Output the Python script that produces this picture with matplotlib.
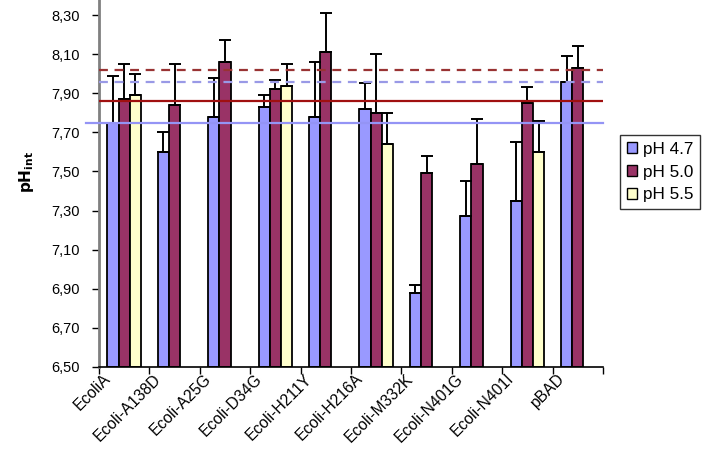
import numpy as np
import matplotlib
matplotlib.use("Agg")
import matplotlib.pyplot as plt
from matplotlib.patches import Patch

plt.rcParams['font.family'] = ['Liberation Sans', 'DejaVu Sans']

categories = ['EcoliA', 'Ecoli-A138D', 'Ecoli-A25G', 'Ecoli-D34G', 'Ecoli-H211Y',
              'Ecoli-H216A', 'Ecoli-M332K', 'Ecoli-N401G', 'Ecoli-N401I', 'pBAD']
nan = np.nan
ph47 = [7.75, 7.60, 7.78, 7.83, 7.78, 7.82, 6.88, 7.27, 7.35, 7.96]
ph47_err = [0.24, 0.10, 0.20, 0.06, 0.28, 0.13, 0.04, 0.18, 0.30, 0.13]
ph50 = [7.87, 7.84, 8.06, 7.92, 8.11, 7.80, 7.49, 7.54, 7.85, 8.03]
ph50_err = [0.18, 0.21, 0.11, 0.05, 0.20, 0.30, 0.09, 0.23, 0.08, 0.11]
ph55 = [7.89, nan, nan, 7.935, nan, 7.64, nan, nan, 7.60, nan]
ph55_err = [0.11, nan, nan, 0.115, nan, 0.16, nan, nan, 0.16, nan]
series_names = ['pH 4.7', 'pH 5.0', 'pH 5.5']
ref_levels = [7.75, 7.86, 7.96, 8.02]
yticks = [6.5, 6.7, 6.9, 7.1, 7.3, 7.5, 7.7, 7.9, 8.1, 8.3]

colors = ['#9999FF', '#993366', '#FFFFCC']
ref_styles = [('#9494F5', '-'), ('#A01010', '-'), ('#9999E6', (0, (4, 3))), ('#993333', (0, (4, 3)))]

fig = plt.figure(figsize=(7.08, 4.54), dpi=100)
ax = fig.add_axes([99 / 708, 1 - 367 / 454, (603 - 99) / 708, 367 / 454])

x = np.arange(len(categories))
w = 1 / 4.5
series = [(ph47, ph47_err), (ph50, ph50_err), (ph55, ph55_err)]
for k, (vals, errs) in enumerate(series):
    vals = np.array(vals)
    errs = np.array(errs)
    ok = ~np.isnan(vals)
    xs = x[ok] + (k - 1) * w
    ax.bar(xs, vals[ok] - 6.5, bottom=6.5, width=w, color=colors[k],
           edgecolor='black', linewidth=1.3, zorder=2)
    ax.errorbar(xs, vals[ok], yerr=[np.zeros(ok.sum()), errs[ok]], fmt='none',
                ecolor='black', elinewidth=1.4, capsize=4.3, capthick=1.4, zorder=3)

for lvl, (c, ls) in zip(ref_levels, ref_styles):
    if lvl == ref_levels[0]:
        ax.axhline(lvl, xmin=-0.026, xmax=1, color=c, linestyle=ls, linewidth=1.6,
                   zorder=4, clip_on=False)
    else:
        ax.axhline(lvl, color=c, linestyle=ls, linewidth=1.6, zorder=4)

ax.set_xlim(-0.5, len(categories) - 0.5)
ax.set_ylim(6.5, 8.377)
ax.set_yticks(yticks)
ax.set_yticklabels([f"{v:.2f}".replace('.', ',') for v in yticks], fontsize=10.5)

ax.set_xticks(np.arange(-0.5, len(categories)), labels=[''] * (len(categories) + 1))
ax.set_xticks(x - 0.42, minor=True)
ax.set_xticklabels(categories, minor=True, rotation=45, ha='right',
                   rotation_mode='anchor', fontsize=11.3)
ax.tick_params(axis='x', which='minor', length=0, pad=3)
ax.tick_params(axis='x', which='major', length=5, direction='out', width=1)
ax.tick_params(axis='y', length=5, direction='out', width=1, pad=9)

ax.spines['top'].set_visible(False)
ax.spines['right'].set_visible(False)
ax.spines['left'].set_color('#808080')
ax.spines['left'].set_linewidth(2)
ax.spines['bottom'].set_color('black')
ax.spines['bottom'].set_linewidth(1.2)

ax.set_ylabel(r'$\mathbf{pH_{int}}$', fontsize=11)
ax.yaxis.set_label_coords(-0.125, 0.53)

handles = [Patch(facecolor=c, edgecolor='black', linewidth=1) for c in colors]
leg = fig.legend(handles, series_names, loc='upper left', bbox_to_anchor=(620 / 708, 1 - 135 / 454),
                 fontsize=12.3, frameon=True, fancybox=False, handlelength=0.6, handleheight=0.6,
                 handletextpad=0.35, borderpad=0.4, labelspacing=0.45, borderaxespad=0)
leg.get_frame().set_edgecolor('black')
leg.get_frame().set_linewidth(1)

fig.savefig('out.png', dpi=100)
